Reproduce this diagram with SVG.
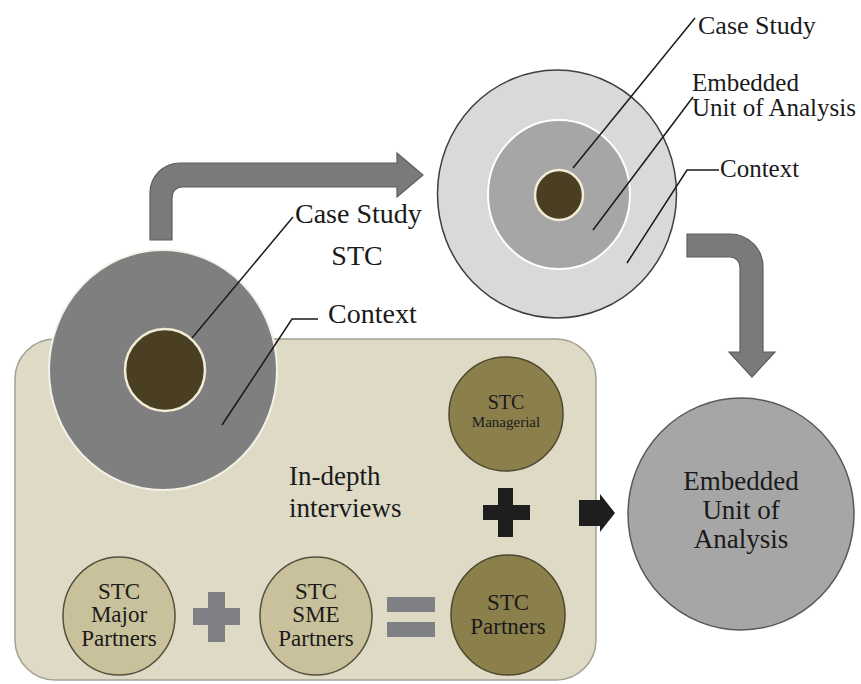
<svg xmlns="http://www.w3.org/2000/svg" width="861" height="684" viewBox="0 0 861 684">
<style>
text{font-family:"Liberation Serif","Times New Roman",serif;fill:#1a1a1a}
.lead{stroke:#1a1a1a;stroke-width:1.5;fill:none}
.bend{fill:#7a7a7a;stroke:#5e5e5e;stroke-width:1.2}
.light{fill:#c9c19b;stroke:#55503c;stroke-width:1.5}
.olive{fill:#8b7f4b;stroke:#4e4830;stroke-width:1.5}
.core{fill:#4a3f22;stroke:#f1ecd6;stroke-width:2.5}
.op{fill:#7f8084}
.blk{fill:#1e1e1e}
</style>
<rect width="861" height="684" fill="#ffffff"/>
<g id="interviews-box">
<rect x="15" y="339" width="581" height="341" rx="40" ry="40" fill="#dedac6" stroke="#a3a192" stroke-width="1.5"/>
<text x="289" y="485" font-size="27">In-depth</text>
<text x="289" y="517" font-size="27">interviews</text>
</g>
<g id="case-study-stc">
<ellipse cx="163" cy="370" rx="114" ry="120" fill="#7f7f7f" stroke="#f4f2e8" stroke-width="2"/>
<ellipse class="core" cx="165" cy="370" rx="40" ry="41"/>
</g>
<g id="embedded-model">
<ellipse cx="557" cy="194" rx="119.5" ry="124" fill="#d9d9d9" stroke="#3f3f3f" stroke-width="1.5"/>
<ellipse cx="559" cy="194.5" rx="71" ry="74.5" fill="#a6a6a6" stroke="#ffffff" stroke-width="2"/>
<ellipse class="core" cx="559" cy="195" rx="24" ry="25"/>
</g>
<g id="stc-managerial">
<ellipse class="olive" cx="506" cy="414" rx="57" ry="57"/>
<text x="506" y="409" font-size="20" text-anchor="middle">STC</text>
<text x="506" y="427" font-size="15" text-anchor="middle">Managerial</text>
</g>
<g id="stc-major-partners">
<ellipse class="light" cx="119" cy="616" rx="56" ry="59"/>
<text x="119" y="599" font-size="23" text-anchor="middle">STC</text>
<text x="119" y="622" font-size="23" text-anchor="middle">Major</text>
<text x="119" y="646" font-size="23" text-anchor="middle">Partners</text>
</g>
<g id="stc-sme-partners">
<ellipse class="light" cx="316" cy="616" rx="56" ry="59"/>
<text x="316" y="599" font-size="23" text-anchor="middle">STC</text>
<text x="316" y="622" font-size="23" text-anchor="middle">SME</text>
<text x="316" y="646" font-size="23" text-anchor="middle">Partners</text>
</g>
<g id="stc-partners">
<ellipse class="olive" cx="508" cy="615" rx="57" ry="60"/>
<text x="508" y="610" font-size="23" text-anchor="middle">STC</text>
<text x="508" y="634" font-size="23" text-anchor="middle">Partners</text>
</g>
<g id="embedded-unit">
<ellipse cx="741" cy="514" rx="113" ry="116" fill="#a6a6a6" stroke="#595959" stroke-width="1.5"/>
<text x="741" y="490" font-size="27" text-anchor="middle">Embedded</text>
<text x="741" y="519" font-size="27" text-anchor="middle">Unit of</text>
<text x="741" y="548" font-size="27" text-anchor="middle">Analysis</text>
</g>
<g id="operators">
<rect class="op" x="193" y="608" width="47" height="17"/>
<rect class="op" x="208" y="592" width="17" height="50"/>
<rect class="op" x="387" y="597" width="48" height="15"/>
<rect class="op" x="387" y="622" width="48" height="15"/>
<rect class="blk" x="483" y="505" width="47" height="15"/>
<rect class="blk" x="498" y="488" width="15" height="49"/>
</g>
<g id="connectors">
<path class="bend" d="M150,240 L150,193 A30,30 0 0 1 180,163 L397,163 L397,153 L423,175 L397,197 L397,187 L182,187 A10,10 0 0 0 172,197 L172,240 Z"/>
<path class="bend" d="M687,234 L730,234 A33,33 0 0 1 763,267 L763,352 L775,352 L752,377 L729,352 L740,352 L740,267 A10,10 0 0 0 730,257 L687,257 Z"/>
<polygon class="blk" points="579,500 600,500 600,494 615,513 600,532 600,526 579,526"/>
<polyline class="lead" points="192,338 293,217"/>
<polyline class="lead" points="222,425 292,319 318,319"/>
<polyline class="lead" points="573,168 695,18"/>
<polyline class="lead" points="593,230 693,97"/>
<polyline class="lead" points="627,263 687,170 719,170"/>
</g>
<g id="labels">
<text x="295" y="223" font-size="28">Case Study</text>
<text x="357" y="265" font-size="28" text-anchor="middle">STC</text>
<text x="328" y="323" font-size="28">Context</text>
<text x="698" y="34" font-size="26">Case Study</text>
<text x="692" y="91" font-size="25">Embedded</text>
<text x="692" y="116" font-size="25">Unit of Analysis</text>
<text x="720" y="177" font-size="25">Context</text>
</g>
</svg>
